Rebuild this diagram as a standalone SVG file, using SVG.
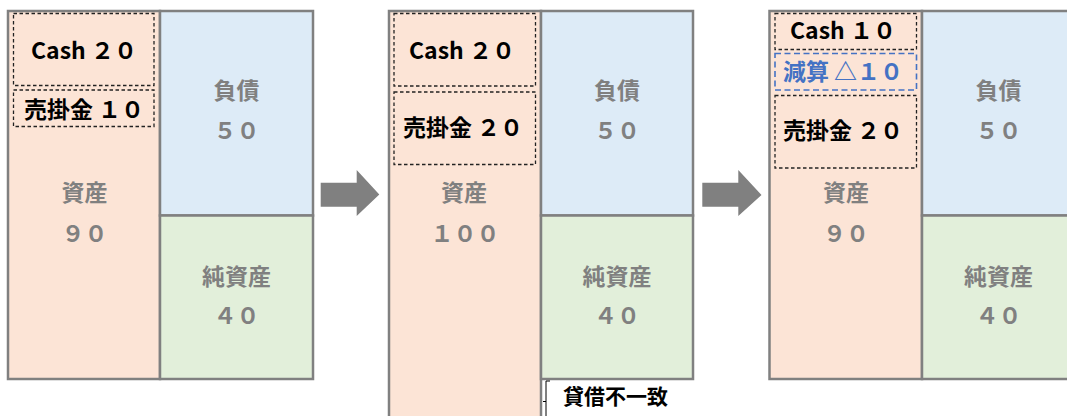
<svg xmlns="http://www.w3.org/2000/svg" width="1067" height="416" viewBox="0 0 1067 416">
<defs>
<style>
.asset{fill:#FCE4D6;stroke:#808080;stroke-width:2.5}
.liab{fill:#DDEBF7;stroke:#808080;stroke-width:2.5}
.eq{fill:#E2EFDA;stroke:#808080;stroke-width:2.5}
.dash{fill:none;stroke:#222222;stroke-width:1.3;stroke-dasharray:3.5 2.5}
.bdash{fill:none;stroke:#4472C4;stroke-width:1.6;stroke-dasharray:6 3.5}
text{font-family:"Noto Sans CJK JP","Noto Sans",sans-serif;font-weight:bold;text-anchor:middle;dominant-baseline:central}
.g{fill:#808080;font-size:23px}
.k{fill:#000000;font-size:23px}
.b{fill:#4472C4;font-size:23px}
.arrow{fill:#808080}
</style>
</defs>
<g id="panel1">
<rect class="asset" x="8" y="11" width="152" height="368"/>
<rect class="liab" x="160" y="11" width="153" height="204.5"/>
<rect class="eq" x="160" y="215.5" width="153" height="163.5"/>
<rect class="dash" x="13.5" y="13.5" width="140.5" height="72"/>
<rect class="dash" x="13.5" y="90" width="140.5" height="36.5"/>
<text class="k" x="84" y="48.5">Cash ２０</text>
<text class="k" x="84" y="107.5">売掛金 １０</text>
<text class="g" x="84.5" y="190.5">資産</text>
<text class="g" x="84.5" y="231.5">９０</text>
<text class="g" x="236.5" y="89">負債</text>
<text class="g" x="236.5" y="128.5">５０</text>
<text class="g" x="236.5" y="274.5">純資産</text>
<text class="g" x="236.5" y="313.5">４０</text>
</g>
<g id="panel2">
<rect class="asset" x="389" y="11" width="152" height="420"/>
<rect class="liab" x="541" y="11" width="152" height="204.5"/>
<rect class="eq" x="541" y="215.5" width="152" height="163.5"/>
<rect class="dash" x="394" y="13.5" width="141.5" height="72.5"/>
<rect class="dash" x="394" y="92" width="141.5" height="72.5"/>
<text class="k" x="462" y="48.5">Cash ２０</text>
<text class="k" x="463" y="126">売掛金 ２０</text>
<text class="g" x="464" y="190.5">資産</text>
<text class="g" x="465" y="232">１００</text>
<text class="g" x="617" y="89">負債</text>
<text class="g" x="617" y="128.5">５０</text>
<text class="g" x="617" y="274.5">純資産</text>
<text class="g" x="617" y="313.5">４０</text>
</g>
<g id="panel3">
<rect class="asset" x="769.5" y="11" width="152.5" height="368"/>
<rect class="liab" x="922" y="11" width="160" height="204.5"/>
<rect class="eq" x="922" y="215.5" width="160" height="163.5"/>
<rect class="dash" x="775" y="13.5" width="141.5" height="36"/>
<rect class="bdash" x="775" y="53.5" width="141.5" height="36.5"/>
<rect class="dash" x="775" y="95.5" width="141.5" height="72.5"/>
<text class="k" x="843" y="29">Cash １０</text>
<text class="b" x="843" y="70">減算 △１０</text>
<text class="k" x="843" y="128.5">売掛金 ２０</text>
<text class="g" x="846" y="190.5">資産</text>
<text class="g" x="846" y="231.5">９０</text>
<text class="g" x="998.5" y="89">負債</text>
<text class="g" x="998.5" y="128.5">５０</text>
<text class="g" x="998.5" y="274.5">純資産</text>
<text class="g" x="998.5" y="313.5">４０</text>
</g>
<g id="mismatch">
<path d="M550,381 H546 V416 M546,401.5 H543" fill="none" stroke="#000000" stroke-width="1"/>
<text class="k" x="615.5" y="395" style="font-size:21px">貸借不一致</text>
</g>
<g id="connectors">
<polygon class="arrow" points="320.7,182.7 356.7,182.7 356.7,170 379.3,194.5 356.7,216 356.7,206.7 320.7,206.7"/>
<polygon class="arrow" points="702.3,182.7 738.3,182.7 738.3,170 761.5,195 738.3,216 738.3,206.7 702.3,206.7"/>
</g>
</svg>
